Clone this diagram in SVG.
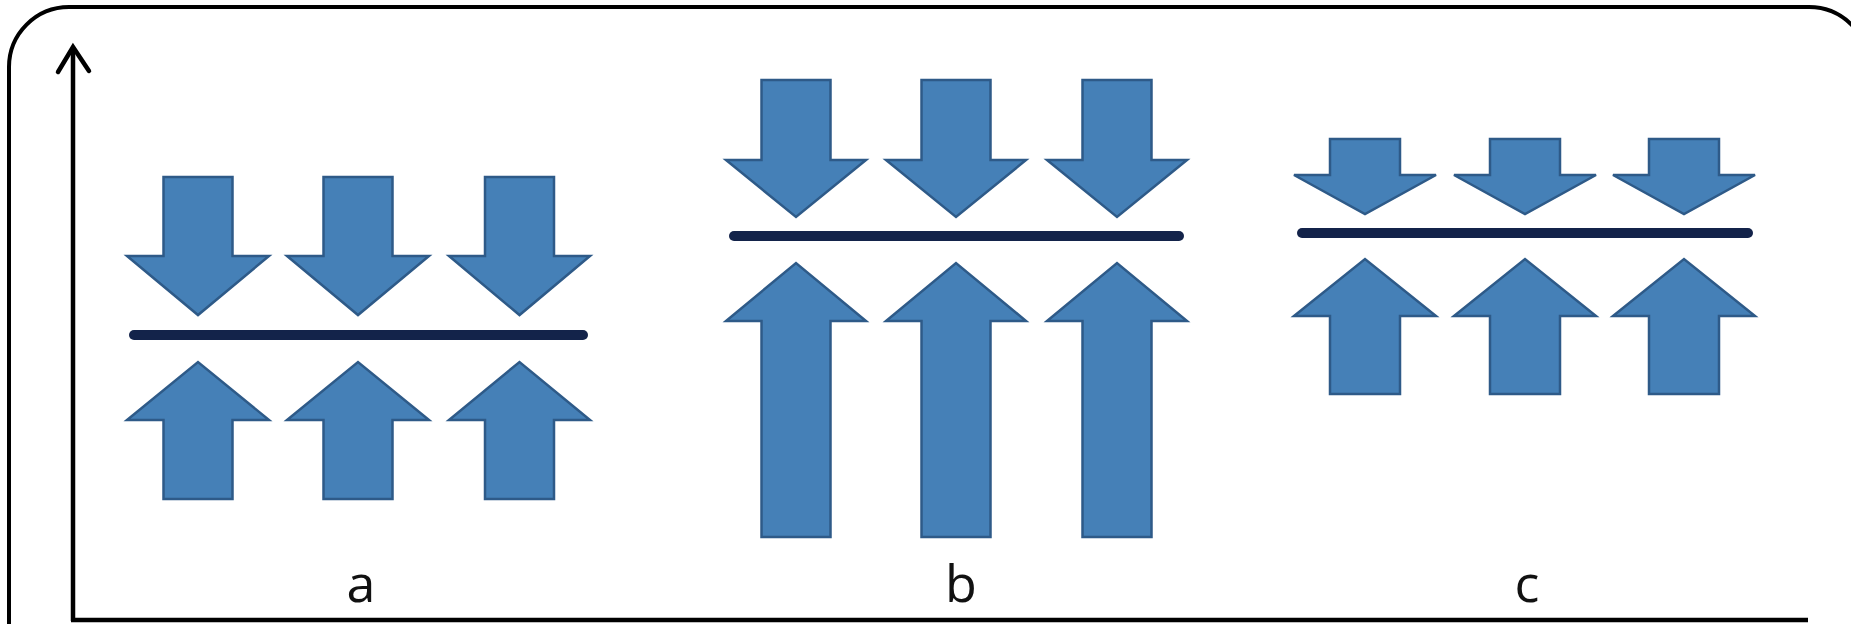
<svg xmlns="http://www.w3.org/2000/svg" width="1851" height="624" viewBox="0 0 1851 624">
<style>
.arr{fill:#4580B7;stroke:#2E5A88;stroke-width:2.5;stroke-linejoin:miter}
.plate{stroke:#13234A;stroke-width:10;stroke-linecap:round}
.lbl{font-family:"Open Sans","Liberation Sans",sans-serif;font-size:52px;fill:#111;text-anchor:middle}
.ax{stroke:#000;stroke-width:4.5;fill:none}
</style>
<rect x="0" y="0" width="1851" height="624" fill="#fff"/>
<rect id="frame" x="9" y="7" width="1860" height="720" rx="60" ry="60" fill="none" stroke="#000" stroke-width="4"/>
<g id="axes">
<path class="ax" d="M73 621 V48"/>
<path class="ax" d="M58 72 L73 47 L89 71" stroke-width="5.5" stroke-linecap="round" stroke-linejoin="miter"/>
<path class="ax" d="M71 620 H1808"/>
</g>
<g id="panel-a">
<path class="arr" d="M163.5 177 H232.5 V256 H269 L198 315 L127 256 H163.5 Z"/>
<path class="arr" d="M323.5 177 H392.5 V256 H429 L358 315 L287 256 H323.5 Z"/>
<path class="arr" d="M485 177 H554 V256 H590 L519.5 315 L449 256 H485 Z"/>
<line class="plate" x1="134" y1="335" x2="583" y2="335"/>
<path class="arr" d="M163.5 499 H232.5 V420 H269 L198 362 L127 420 H163.5 Z"/>
<path class="arr" d="M323.5 499 H392.5 V420 H429 L358 362 L287 420 H323.5 Z"/>
<path class="arr" d="M485 499 H554 V420 H590 L519.5 362 L449 420 H485 Z"/>
<text class="lbl" x="361" y="602">a</text>
</g>
<g id="panel-b">
<path class="arr" d="M761.5 80 H830.5 V160 H866 L796 217 L726 160 H761.5 Z"/>
<path class="arr" d="M921.5 80 H990.5 V160 H1026 L956 217 L886 160 H921.5 Z"/>
<path class="arr" d="M1082.5 80 H1151.5 V160 H1187 L1117 217 L1047 160 H1082.5 Z"/>
<line class="plate" x1="734" y1="236" x2="1179" y2="236"/>
<path class="arr" d="M761.5 537 H830.5 V321 H866 L796 263 L726 321 H761.5 Z"/>
<path class="arr" d="M921.5 537 H990.5 V321 H1026 L956 263 L886 321 H921.5 Z"/>
<path class="arr" d="M1082.5 537 H1151.5 V321 H1187 L1117 263 L1047 321 H1082.5 Z"/>
<text class="lbl" x="961" y="602">b</text>
</g>
<g id="panel-c">
<path class="arr" d="M1330 139 H1400 V175 H1436 L1365 214 L1294 175 H1330 Z"/>
<path class="arr" d="M1490 139 H1560 V175 H1596 L1525 214 L1454 175 H1490 Z"/>
<path class="arr" d="M1649 139 H1719 V175 H1755 L1684 214 L1613 175 H1649 Z"/>
<line class="plate" x1="1302" y1="233" x2="1748" y2="233"/>
<path class="arr" d="M1330 394 H1400 V316 H1436 L1365 259 L1294 316 H1330 Z"/>
<path class="arr" d="M1490 394 H1560 V316 H1596 L1525 259 L1454 316 H1490 Z"/>
<path class="arr" d="M1649 394 H1719 V316 H1755 L1684 259 L1613 316 H1649 Z"/>
<text class="lbl" x="1527" y="602">c</text>
</g>
</svg>
